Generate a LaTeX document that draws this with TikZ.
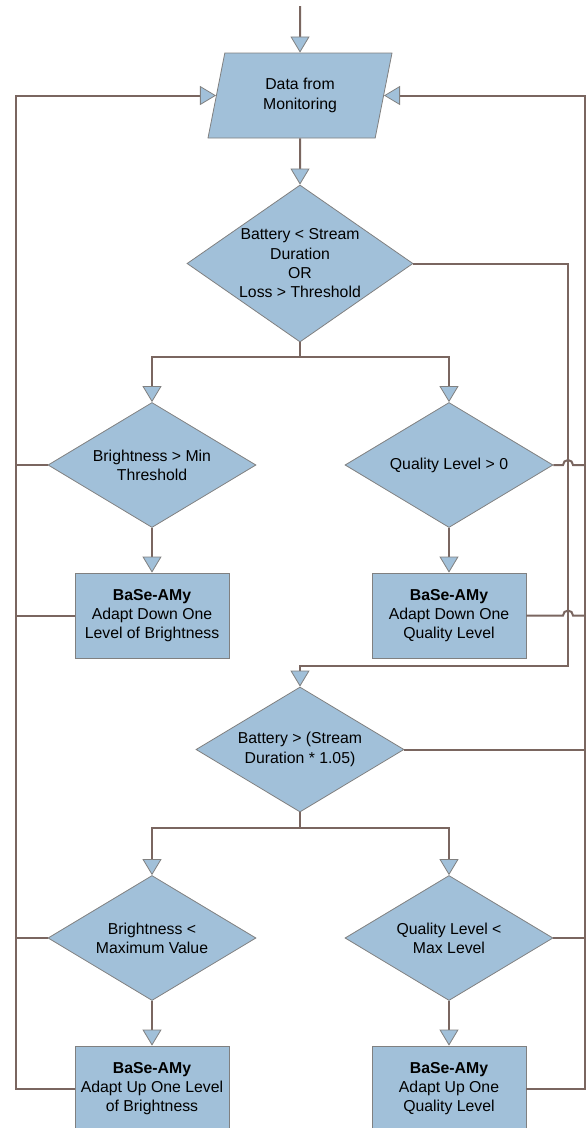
\documentclass[tikz,border=0pt]{standalone}
\usepackage{fontspec}
\setmainfont{Liberation Sans}
\usetikzlibrary{arrows.meta,positioning,calc,shapes.geometric}

\definecolor{shapefill}{RGB}{161,192,217}
\definecolor{shapeline}{RGB}{128,128,128}
\definecolor{flowline}{RGB}{122,102,96}

\begin{document}
\begin{tikzpicture}[x=1pt,y=1pt,
    font=\fontsize{15.8}{19.3}\selectfont,
    base/.style={draw=shapeline,fill=shapefill,line width=0.8pt,align=center,inner sep=0pt},
    io/.style={base,trapezium,trapezium left angle=63.7,trapezium right angle=116.3,
      trapezium stretches body=true,minimum width=184pt,minimum height=85pt},
    test/.style={base,diamond,aspect=1.68,minimum width=208pt,minimum height=125pt},
    action/.style={base,rectangle,minimum width=154pt,minimum height=85pt},
    link/.style={draw=flowline,line width=2pt},
    flow/.style={link,-{Triangle[width=19pt,length=16pt,line width=0.8pt,color=shapeline,fill=shapefill]}}]

      \useasboundingbox (0,0) rectangle (586,-1128);
      \clip (0,0) rectangle (586,-1128);

      \node[io] (data) at (300,-95.5) {Data from\\Monitoring};

      \coordinate[below = 168pt of data.center] (d1c);
      \node[test,aspect=1.44,minimum width=226pt,minimum height=157pt] at (d1c) (d1) {Battery < Stream\\Duration\\OR\\Loss > Threshold};

      \coordinate[below left  = 201.5pt and 148pt of d1.center] (d2lc);
      \coordinate[below right = 201.5pt and 149pt of d1.center] (d2rc);
      \node[test] at (d2lc) (d2l) {Brightness > Min\\Threshold};
      \node[test] at (d2rc) (d2r) {Quality Level > 0};

      \coordinate[below = 150.5pt of d2l.center] (b2lc);
      \coordinate[below = 150.5pt of d2r.center] (b2rc);
      \node[action] at (b2lc) (b2l) {\textbf{BaSe-AMy}\\Adapt Down One\\Level of Brightness};
      \node[action] at (b2rc) (b2r) {\textbf{BaSe-AMy}\\Adapt Down One\\Quality Level};

      \coordinate[below = 486pt of d1.center] (d3c);
      \node[test] at (d3c) (d3) {Battery > (Stream\\Duration * 1.05)};

      \coordinate[below left  = 188.5pt and 148pt of d3.center] (d4lc);
      \coordinate[below right = 188.5pt and 149pt of d3.center] (d4rc);
      \node[test] at (d4lc) (d4l) {Brightness <\\Maximum Value};
      \node[test] at (d4rc) (d4r) {Quality Level <\\Max Level};

      \coordinate[below = 150.5pt of d4l.center] (b4lc);
      \coordinate[below = 150.5pt of d4r.center] (b4rc);
      \node[action] at (b4lc) (b4l) {\textbf{BaSe-AMy}\\Adapt Up One Level\\of Brightness};
      \node[action] at (b4rc) (b4r) {\textbf{BaSe-AMy}\\Adapt Up One\\Quality Level};

      % rails and corners
      \coordinate (start) at (300,-6);
      \coordinate (lrail) at (16,-95.5);
      \coordinate (rrail) at (584.5,-95.5);
      \coordinate (irail) at (568,-666);

      \draw[flow] (start) -- (data);
      \draw[flow] (data) -- (d1);

      \draw[link] (d1.south) -- ++(0,-15) coordinate (split1);
      \draw[flow] (split1) -| (d2l.north);
      \draw[flow] (split1) -| (d2r.north);
      \draw[flow] (d2l) -- (b2l);
      \draw[flow] (d2r) -- (b2r);

      \draw[flow] (d1.east) -| (irail) -| (d3.north);

      \draw[link] (d3.south) -- ++(0,-16) coordinate (split2);
      \draw[flow] (split2) -| (d4l.north);
      \draw[flow] (split2) -| (d4r.north);
      \draw[flow] (d4l) -- (b4l);
      \draw[flow] (d4r) -- (b4r);

      % back to monitoring, left
      \draw[flow] (b4l.west) -| (lrail) -- (data.left side);
      \draw[link] (d2l.west) -- (d2l.west -| lrail);
      \draw[link] (b2l.west) -- (b2l.west -| lrail);
      \draw[link] (d4l.west) -- (d4l.west -| lrail);

      % back to monitoring, right
      \draw[flow] (b4r.east) -| (rrail) -- (data.right side);
      \draw[link] (d3.east) -- (d3.east -| rrail);
      \draw[link] (d4r.east) -- (d4r.east -| rrail);
      \draw[link] (d2r.east) -- ([xshift=-5pt]d2r.east -| irail) arc[start angle=180,end angle=0,radius=5pt] -- (d2r.east -| rrail);
      \draw[link] (b2r.east) -- ([xshift=-5pt]b2r.east -| irail) arc[start angle=180,end angle=0,radius=5pt] -- (b2r.east -| rrail);

\end{tikzpicture}
\end{document}
